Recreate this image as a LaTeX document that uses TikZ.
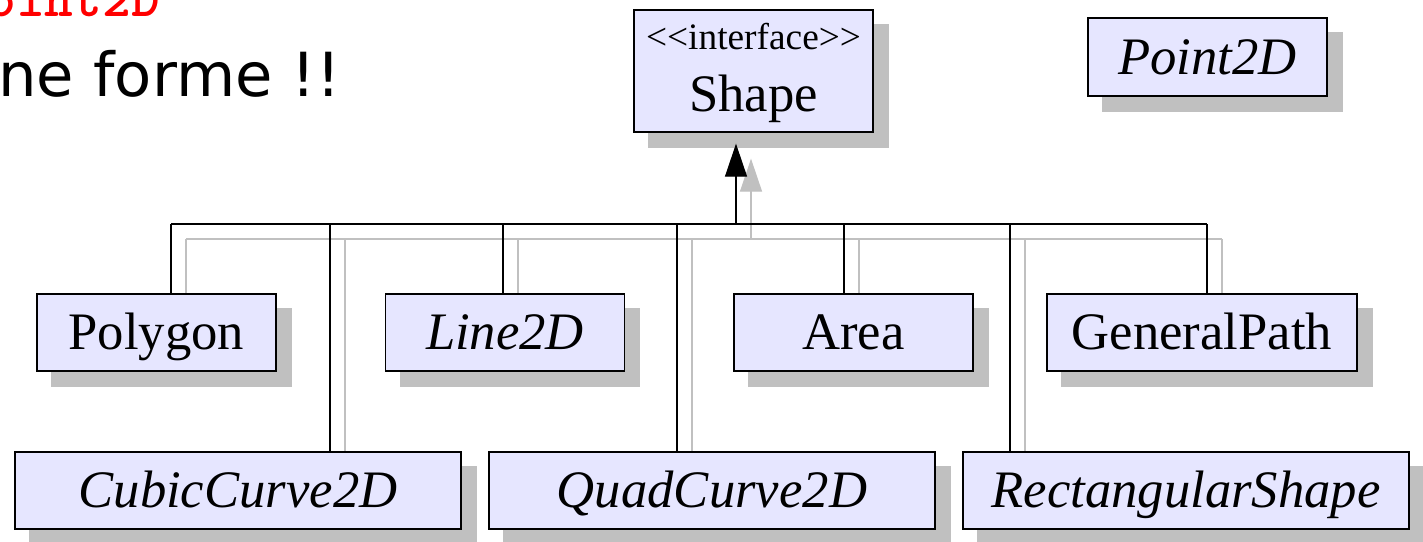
\documentclass[tikz,border=0pt]{standalone}
\usepackage{fontspec}
\setmainfont{Liberation Serif}
\newfontfamily\slidefont{DejaVu Sans}
\usetikzlibrary{arrows.meta,calc}
\definecolor{boxfill}{RGB}{230,230,255}
\definecolor{shadowgray}{RGB}{192,192,192}
\definecolor{slidered}{RGB}{255,0,0}
\pgfdeclarelayer{shadowlayer}
\pgfdeclarelayer{connlayer}
\pgfsetlayers{shadowlayer,connlayer,main}
\tikzset{
  umlbox/.style={draw=black, line width=1pt, fill=boxfill, inner sep=0pt,
    text height=26pt, text depth=0pt, font=\fontsize{39.5}{47}\selectfont,
    minimum height=57.75pt},
  wnarrow/.style={minimum width=179.25pt},
  wmid/.style={minimum width=232.5pt},
  wwide/.style={minimum width=334.5pt},
  conn/.style={line width=0.9pt},
  genarrow/.style={conn, -{Triangle[length=24.75pt,width=16.5pt]}, shorten >=8.25pt},
}
\begin{document}
\begin{tikzpicture}[x=0.75pt,y=-0.75pt]
\useasboundingbox (0,0) rectangle (1423,542);
\clip (0,0) rectangle (1423,542);

% slide text fragments
\node[anchor=base east, inner sep=0pt, text=slidered, font=\ttfamily\bfseries\fontsize{41}{45}\selectfont] (slidetitle) at (160,17) {Point2D};
\node[anchor=base east, inner sep=0pt, font=\slidefont\fontsize{45.6}{52}\selectfont] (slideline) at (341,97) {ne forme !!};

% boxes
\node[umlbox, wnarrow, minimum height=91.5pt] (shape) at (753.5,71) {};
\node[anchor=base, inner sep=0pt, font=\fontsize{28}{32}\selectfont] (shapestereo) at (753.5,50) {<{}<interface>{}>};
\node[anchor=base, inner sep=0pt, font=\fontsize{39.5}{47}\selectfont] (shapename) at (753.5,111) {Shape};

\node[umlbox, wnarrow, minimum height=58.5pt] (point) at (1207.5,57) {\itshape Point2D};

\node[umlbox, wnarrow] (polygon) at (156.5,332.5) {Polygon};
\node[umlbox, wnarrow] (line) at (505,332.5) {\itshape Line2D};
\node[umlbox, wnarrow] (area) at (853.5,332.5) {Area};
\node[umlbox, wmid] (general) at (1202,332.5) {GeneralPath};

\node[umlbox, wwide] (cubic) at (238,490.5) {\itshape CubicCurve2D};
\node[umlbox, wwide] (quad) at (712,490.5) {\itshape QuadCurve2D};
\node[umlbox, wwide] (rect) at (1186,490.5) {\itshape RectangularShape};

% junction points on the bus
\coordinate (jpoly) at (171,224);
\coordinate (jcubic) at (330,224);
\coordinate (jline) at (503,224);
\coordinate (jquad) at (677,224);
\coordinate (jshape) at (736,224);
\coordinate (jarea) at (844,224);
\coordinate (jrect) at (1010,224);
\coordinate (jgen) at (1207,224);

\begin{pgfonlayer}{shadowlayer}
  \fill[white] (0,0) rectangle (1423,542);
  \foreach \n in {shape,point,polygon,line,area,general,cubic,quad,rect}
    \fill[shadowgray] ([shift={(15,15)}]\n.north west) rectangle ([shift={(15,15)}]\n.south east);
\end{pgfonlayer}

\begin{pgfonlayer}{connlayer}
  \foreach \col/\dx in {shadowgray/11.25pt, black/0pt}{
    \begin{scope}[transform canvas={shift={(\dx,-\dx)}}, color=\col]
      \draw[conn] (jpoly) -- (jgen);
      \draw[conn] (jpoly) -- (jpoly |- polygon.north);
      \draw[conn] (jcubic) -- (jcubic |- cubic.north);
      \draw[conn] (jline) -- (jline |- line.north);
      \draw[conn] (jquad) -- (jquad |- quad.north);
      \draw[conn] (jarea) -- (jarea |- area.north);
      \draw[conn] (jrect) -- (jrect |- rect.north);
      \draw[conn] (jgen) -- (jgen |- general.north);
      \draw[genarrow] (jshape) -- (jshape |- shape.south);
    \end{scope}
  }
\end{pgfonlayer}
\end{tikzpicture}
\end{document}
